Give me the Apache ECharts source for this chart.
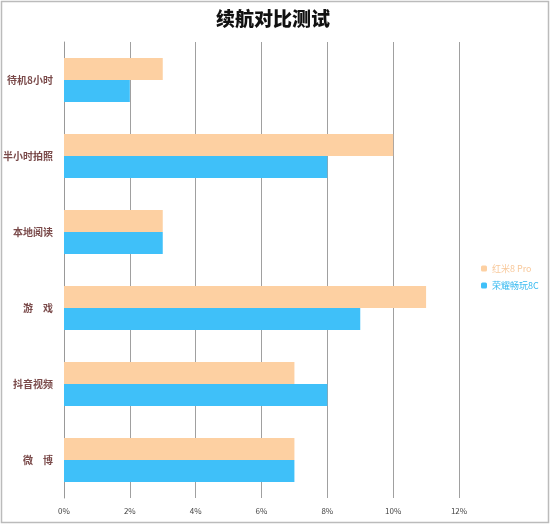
<!DOCTYPE html>
<html>
<head>
<meta charset="utf-8">
<script src="https://cdn.jsdelivr.net/npm/echarts@6/dist/echarts.min.js"></script>
<style>
html,body{margin:0;padding:0;background:#fff;}
#main{width:550px;height:525px;}
</style>
</head>
<body>
<div id="main"></div>
<script>
// 数据
var categories = ['待机8小时', '半小时拍照', '本地阅读', '游　戏', '抖音视频', '微　博'];
var hongmi = [3, 10, 3, 11, 7, 7];
var rongyao = [2, 8, 3, 9, 8, 7];
var xTicks = [0, 2, 4, 6, 8, 10, 12];

var chart = echarts.init(document.getElementById('main'));
var option = {
    backgroundColor: '#fff',
    title: {
        text: '续航对比测试',
        left: 268,
        textAlign: 'center',
        top: 4,
        textStyle: {
            fontFamily: 'Noto Sans CJK SC',
            fontSize: 19,
            fontWeight: 900,
            color: '#111'
        }
    },
    graphic: [{
        type: 'rect',
        shape: {x: 1.5, y: 1.5, width: 547, height: 521},
        style: {fill: 'none', stroke: '#bbb', lineWidth: 1.5},
        silent: true
    }],
    legend: {
        orient: 'vertical',
        left: 476,
        top: 259,
        itemWidth: 6,
        itemHeight: 6,
        itemGap: 8,
        textStyle: {
            fontFamily: 'Noto Sans CJK SC',
            fontSize: 9,
            color: 'inherit'
        },
        data: [
            {name: '红米8 Pro', textStyle: {color: '#f8c89a'}},
            {name: '荣耀畅玩8C', textStyle: {color: '#33b8f0'}}
        ]
    },
    grid: {
        left: 63,
        right: 91,
        top: 42,
        bottom: 27
    },
    xAxis: {
        type: 'value',
        min: xTicks[0],
        max: xTicks[xTicks.length - 1],
        interval: 2,
        axisLine: {show: false},
        axisTick: {show: false},
        splitLine: {lineStyle: {color: '#a0a0a0', width: 1}},
        axisLabel: {
            formatter: '{value}%',
            fontFamily: 'Noto Sans CJK SC',
            fontSize: 8,
            color: '#444',
            margin: 9
        }
    },
    yAxis: {
        type: 'category',
        inverse: true,
        data: categories,
        axisLine: {lineStyle: {color: '#999'}},
        axisTick: {show: true, length: 0},
        axisLabel: {
            fontFamily: 'Noto Sans CJK SC',
            fontSize: 10,
            fontWeight: 'bold',
            color: '#7a4a4a',
            margin: 11
        }
    },
    series: [
        {
            name: '红米8 Pro',
            type: 'bar',
            data: hongmi,
            barWidth: 22,
            barGap: '0%',
            itemStyle: {color: '#fdd0a2'}
        },
        {
            name: '荣耀畅玩8C',
            type: 'bar',
            data: rongyao,
            barWidth: 22,
            barGap: '0%',
            itemStyle: {color: '#3fc0f9'}
        }
    ]
};
chart.setOption(option);
</script>
</body>
</html>
